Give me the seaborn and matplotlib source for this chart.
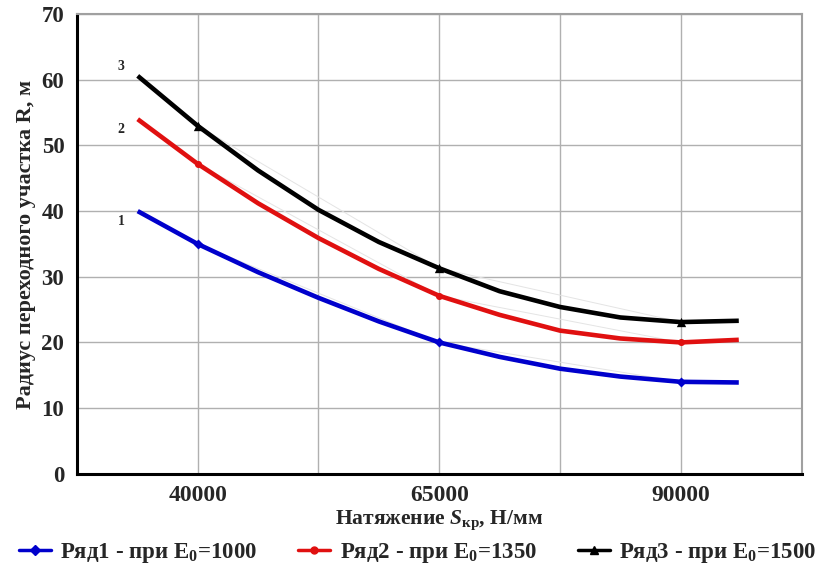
import matplotlib
matplotlib.use("Agg")
import matplotlib.pyplot as plt
from matplotlib.lines import Line2D
import seaborn as sns
import pandas as pd
import numpy as np

# ---- data ----
x_vals = [33800, 40000, 46250, 52500, 58750, 65000, 71250, 77500, 83750, 90000, 96000]
ryad1 = [40.0, 35.0, 30.7, 26.8, 23.2, 20.0, 17.8, 16.0, 14.8, 14.0, 13.9]
ryad2 = [54.0, 47.2, 41.2, 35.9, 31.2, 27.1, 24.2, 21.8, 20.6, 20.0, 20.4]
ryad3 = [60.6, 53.0, 46.2, 40.2, 35.3, 31.3, 27.8, 25.4, 23.8, 23.1, 23.3]
marker_idx = [1, 5, 9]           # measured points (40000, 65000, 90000)
series_names = ["Ряд1 - при E$_0$=1000", "Ряд2 - при E$_0$=1350", "Ряд3 - при E$_0$=1500"]
series_colors = ["#0000cc", "#e01010", "#000000"]
series_markers = ["D", "o", "^"]
curve_labels = ["1", "2", "3"]
curve_label_y = [38.4, 52.4, 62.0]
x_tick_labels = ["40000", "65000", "90000"]
y_ticks = [0, 10, 20, 30, 40, 50, 60, 70]

sns.set_style("white")
plt.rcParams["font.family"] = ["Liberation Serif", "DejaVu Serif"]
plt.rcParams["font.weight"] = "bold"
plt.rcParams["mathtext.fontset"] = "custom"
plt.rcParams["mathtext.rm"] = "Liberation Serif:bold"
plt.rcParams["mathtext.it"] = "Liberation Serif:italic:bold"
plt.rcParams["mathtext.bf"] = "Liberation Serif:bold"

frames = []
for name, ys in zip(series_names, [ryad1, ryad2, ryad3]):
    frames.append(pd.DataFrame({"x": x_vals, "y": ys, "series": name}))
df = pd.concat(frames, ignore_index=True)

fig = plt.figure(figsize=(8.35, 5.66), dpi=100)
ax = fig.add_axes([0.092, 0.163, 0.868, 0.812])

# faint straight connectors between measured points
for name, ys in zip(series_names, [ryad1, ryad2, ryad3]):
    xs_m = [x_vals[i] for i in marker_idx]
    ys_m = [ys[i] for i in marker_idx]
    ax.plot(xs_m, ys_m, color="#e4e4e4", lw=0.7, zorder=2)

sns.lineplot(data=df, x="x", y="y", hue="series", palette=series_colors,
             linewidth=3.3, sort=False, legend=False, ax=ax, zorder=3,
             solid_joinstyle="round", solid_capstyle="butt")

for name, ys, c, m in zip(series_names, [ryad1, ryad2, ryad3], series_colors, series_markers):
    mdf = pd.DataFrame({"x": [x_vals[i] for i in marker_idx], "y": [ys[i] for i in marker_idx]})
    sns.scatterplot(data=mdf, x="x", y="y", color=c, marker=m, s=45 if m == "^" else 26,
                    edgecolor=c, linewidth=0, ax=ax, zorder=4, legend=False)

for lab, yy in zip(curve_labels, curve_label_y):
    ax.text(32100, yy, lab, fontsize=10, fontweight="bold", ha="center", va="center")

ax.set_xlim(27500, 102500)
ax.set_ylim(0, 70)
ax.set_xticks([40000, 65000, 90000])
ax.set_xticklabels(x_tick_labels, fontsize=17, fontweight="bold")
ax.set_xticks([27500, 52500, 77500, 102500], minor=True)
ax.tick_params(axis="x", which="major", length=0, pad=8)
ax.tick_params(axis="x", which="minor", length=5, width=1.5, direction="out", color="black")
ax.set_yticks(y_ticks)
ax.set_yticklabels([str(v) for v in y_ticks], fontsize=16.5, fontweight="bold")
ax.tick_params(axis="y", length=5, width=1.5, direction="out", color="black", pad=4)

ax.grid(True, which="major", axis="both", color="#b0b0b0", lw=1.0)
ax.grid(True, which="minor", axis="x", color="#b0b0b0", lw=1.0)

for s in ["left", "bottom"]:
    ax.spines[s].set_color("black")
    ax.spines[s].set_linewidth(2.2)
for s in ["top", "right"]:
    ax.spines[s].set_color("#a0a0a0")
    ax.spines[s].set_linewidth(1.5)

ax.set_xlabel(r"Натяжение $S_{\mathrm{кр}}$, Н/мм", fontsize=15.5, fontweight="bold", labelpad=2)
ax.set_ylabel("Радиус переходного участка R, м", fontsize=16, fontweight="bold", labelpad=4)

handles = [Line2D([0], [0], color=c, lw=2.5, marker=m, markersize=6 if m == "^" else 5)
           for c, m in zip(series_colors, series_markers)]
fig.legend(handles, series_names, loc="lower center", bbox_to_anchor=(0.5, -0.035), ncol=3,
           frameon=False, prop={"family": "Liberation Serif", "weight": "bold", "size": 16.5},
           handlelength=1.4, handletextpad=0.4, columnspacing=1.8)

fig.savefig("out.png", dpi=100)
